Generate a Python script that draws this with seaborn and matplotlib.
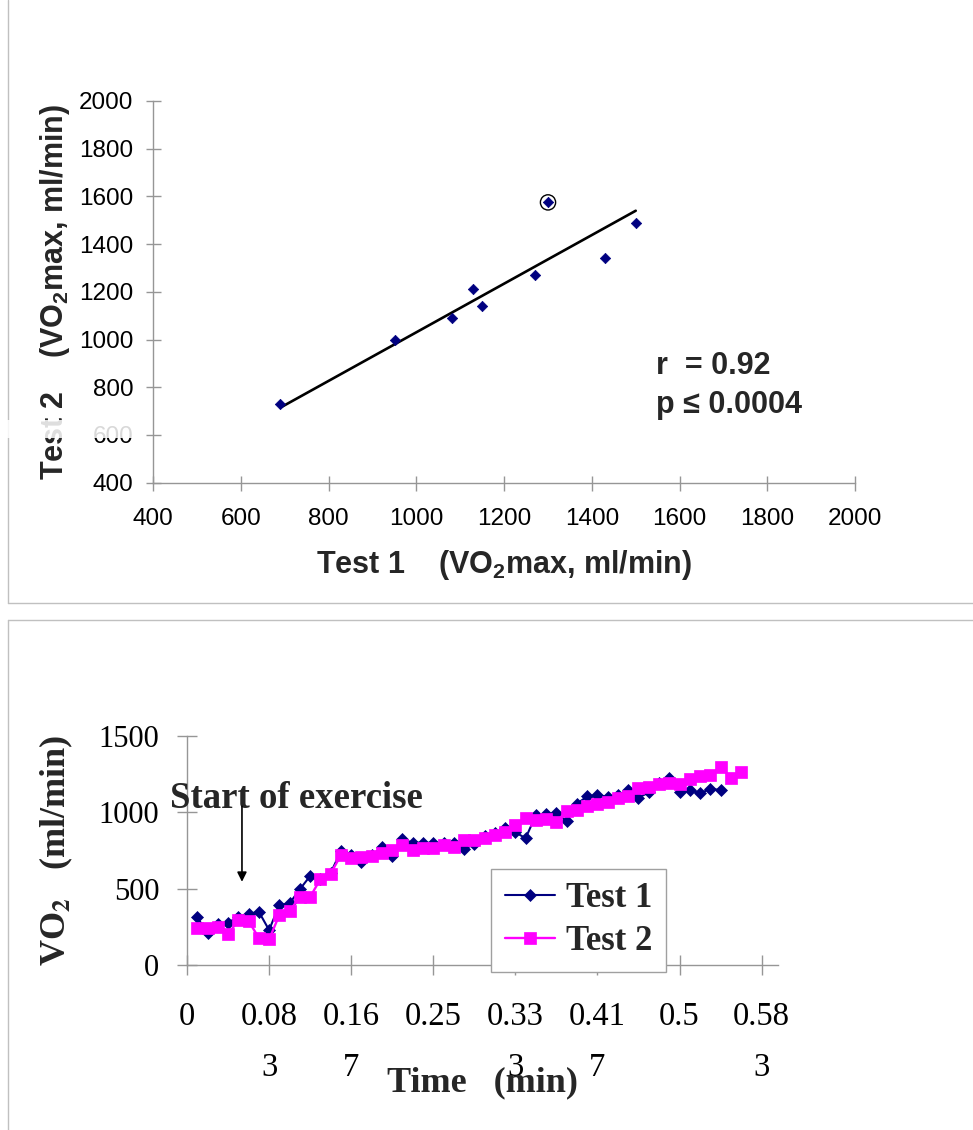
import numpy as np
import pandas as pd
import matplotlib
matplotlib.use("Agg")
import matplotlib.pyplot as plt
from matplotlib.lines import Line2D
from matplotlib.patches import Rectangle
import seaborn as sns

# ---- Test-retest VO2max (ml/min) ----
test1_vo2max = [690, 950, 1080, 1130, 1150, 1270, 1300, 1430, 1500]
test2_vo2max = [730, 1000, 1090, 1210, 1140, 1270, 1575, 1340, 1490]
trend_x = [690, 1500]
trend_y = [715, 1540]
outlier_x = [1300]
outlier_y = [1575]
vo2max_ticks = [400, 600, 800, 1000, 1200, 1400, 1600, 1800, 2000]

# ---- VO2 during the exercise test (ml/min), one sample per time step ----
time_step = 1 / 96
vo2_test1 = [312, 208, 270, 277, 316, 334, 349, 229, 393, 404,
             496, 583, 565, 603, 745, 720, 676, 720, 770, 717,
             823, 801, 801, 799, 799, 799, 761, 790, 848, 862,
             895, 870, 830, 982, 988, 993, 942, 1056, 1104, 1113,
             1102, 1113, 1146, 1096, 1130, 1195, 1226, 1135, 1146, 1124,
             1154, 1146]
vo2_test2 = [240, 240, 246, 200, 294, 288, 178, 168, 327, 353,
             446, 446, 562, 599, 719, 698, 705, 714, 731, 753,
             786, 753, 764, 764, 786, 775, 819, 819, 830, 851,
             873, 917, 962, 952, 954, 939, 1006, 1015, 1042, 1052,
             1069, 1091, 1110, 1157, 1168, 1183, 1195, 1185, 1220, 1240,
             1244, 1300, 1227, 1262]
time_ticks = [0, 0.0833, 0.1667, 0.25, 0.3333, 0.4167, 0.5, 0.5833]
time_labels = ["0", "0.08\n3", "0.16\n7", "0.25", "0.33\n3", "0.41\n7", "0.5", "0.58\n3"]
vo2_ticks = [0, 500, 1000, 1500]

sns.set_theme(style="white")
plt.rcParams["font.family"] = ["Liberation Sans", "DejaVu Sans"]
plt.rcParams["mathtext.fontset"] = "custom"
plt.rcParams["mathtext.rm"] = "Liberation Sans"
plt.rcParams["mathtext.bf"] = "Liberation Sans:bold"
plt.rcParams["mathtext.default"] = "bf"

AXIS_GREY = "#969696"
NAVY = "#000080"
MAGENTA = "#FF00FF"

W, H = 973, 1130
fig = plt.figure(figsize=(W / 100, H / 100), dpi=100)
fig.patch.set_facecolor("white")


def ax_rect(x0, y0, x1, y1):
    """Axes rectangle from pixel corners (top-left origin)."""
    return [x0 / W, 1 - y1 / H, (x1 - x0) / W, (y1 - y0) / H]


# ================= scatter: Test 1 vs Test 2 =================
ax1 = fig.add_axes(ax_rect(153.3, 101, 855, 482.7))
scatter_df = pd.DataFrame({"test1": test1_vo2max, "test2": test2_vo2max})
sns.scatterplot(data=scatter_df, x="test1", y="test2", ax=ax1, marker="D",
                s=28, color=NAVY, edgecolor=NAVY, linewidth=0.5, zorder=3)
sns.lineplot(x=trend_x, y=trend_y, ax=ax1, color="black", linewidth=1.9,
             sort=False, zorder=2)
ax1.scatter(outlier_x, outlier_y, s=120, facecolors="none",
            edgecolors="black", linewidths=1.0, zorder=4)

ax1.set_xlim(400, 2000)
ax1.set_ylim(400, 2000)
ax1.set_xticks(vo2max_ticks)
ax1.set_yticks(vo2max_ticks)
ax1.set_xticklabels([str(t) for t in vo2max_ticks])
ax1.set_yticklabels([str(t) for t in vo2max_ticks])
for side in ["top", "right"]:
    ax1.spines[side].set_visible(False)
for side in ["left", "bottom"]:
    ax1.spines[side].set_color(AXIS_GREY)
    ax1.spines[side].set_linewidth(1.0)
ax1.tick_params(axis="both", direction="inout", length=10.8, width=1.0,
                color=AXIS_GREY, labelsize=17.5, labelcolor="black",
                bottom=True, left=True)
ax1.tick_params(axis="y", pad=9.0)
ax1.tick_params(axis="x", pad=12.5)

ax1.set_xlabel("Test 1    (VO$_2$max, ml/min)", fontsize=22,
               fontweight="bold", va="center")
ax1.xaxis.set_label_coords(0.5, -0.2156)
ax1.set_ylabel("Test 2    (VO$_2$max, ml/min)", fontsize=22,
               fontweight="bold", va="center")
ax1.yaxis.set_label_coords(-0.140, 0.5)

ax1.text(1547, 889, "r  = 0.92", fontsize=22, fontweight="bold",
         ha="left", va="center")
ax1.text(1547, 726, "p \u2264 0.0004", fontsize=22, fontweight="bold",
         ha="left", va="center")

# ================= VO2 over time =================
ax2 = fig.add_axes(ax_rect(187, 736, 778, 965))
serif = ["Liberation Serif", "DejaVu Serif"]
times1 = np.arange(1, len(vo2_test1) + 1) * time_step
times2 = np.arange(1, len(vo2_test2) + 1) * time_step

sns.lineplot(x=times1, y=vo2_test1, ax=ax2, color=NAVY, linewidth=1.5,
             marker="D", markersize=6.6, markeredgecolor=NAVY,
             markeredgewidth=0.5, sort=False, label="Test 1", zorder=3)
sns.lineplot(x=times2, y=vo2_test2, ax=ax2, color=MAGENTA, linewidth=1.7,
             marker="s", markersize=8.2, markeredgecolor=MAGENTA,
             markeredgewidth=0.5, sort=False, label="Test 2", zorder=4)

ax2.set_xlim(0, 0.6)
ax2.set_ylim(0, 1500)
ax2.set_xticks(time_ticks)
ax2.set_xticklabels(time_labels)
ax2.set_yticks(vo2_ticks)
ax2.set_yticklabels([str(t) for t in vo2_ticks])
for side in ["top", "right"]:
    ax2.spines[side].set_visible(False)
for side in ["left", "bottom"]:
    ax2.spines[side].set_color(AXIS_GREY)
    ax2.spines[side].set_linewidth(1.0)
ax2.tick_params(axis="both", direction="inout", length=15, width=1.0,
                color=AXIS_GREY, labelcolor="black", bottom=True, left=True)
ax2.tick_params(axis="y", pad=12.5, labelsize=22)
ax2.tick_params(axis="x", pad=19.0, labelsize=23.5)
for lbl in ax2.get_xticklabels() + ax2.get_yticklabels():
    lbl.set_fontfamily(serif)
for lbl in ax2.get_xticklabels():
    lbl.set_linespacing(1.85)

ax2.set_xlabel("Time   (min)", fontsize=26, fontweight="bold",
               family=serif, va="center")
ax2.xaxis.set_label_coords(0.5, -0.515)
ax2.set_ylabel("VO$_2$   (ml/min)", fontsize=26, fontweight="bold",
               family=serif, va="center", math_fontfamily="stix")
ax2.yaxis.set_label_coords(-0.2217, 0.5)

ax2.text(0.1107, 1093, "Start of exercise", fontsize=26.5, fontweight="bold",
         family=serif, ha="center", va="center", zorder=5)
ax2.annotate("", xy=(0.0558, 545), xytext=(0.0558, 1040),
             arrowprops=dict(arrowstyle="-|>", color="black", lw=1.2,
                             mutation_scale=14, shrinkA=0, shrinkB=0),
             zorder=5)

leg = ax2.legend(loc="upper left", bbox_to_anchor=(0.515, 0.42),
                 borderaxespad=0, frameon=True, fancybox=False,
                 framealpha=1, edgecolor="#a0a0a0",
                 prop={"family": serif, "weight": "bold", "size": 25},
                 handlelength=1.45, handletextpad=0.32, borderpad=0.38,
                 labelspacing=0.3)
leg.get_frame().set_linewidth(1.0)
leg.set_zorder(10)

# ---- panel frames ----
FRAME = "#c0c0c0"
fx = 8 / W
fig.add_artist(Line2D([fx, fx], [1.0, 1 - 603 / H], transform=fig.transFigure,
                      color=FRAME, lw=1.0))
fig.add_artist(Line2D([fx, 1.0], [1 - 603 / H, 1 - 603 / H],
                      transform=fig.transFigure, color=FRAME, lw=1.0))
fig.add_artist(Line2D([fx, 1.0], [1 - 620 / H, 1 - 620 / H],
                      transform=fig.transFigure, color=FRAME, lw=1.0))
fig.add_artist(Line2D([fx, fx], [1 - 620 / H, 0.0], transform=fig.transFigure,
                      color=FRAME, lw=1.0))

# pale band over the left margin of the scatter panel
fig.add_artist(Rectangle((0, 1 - 438 / H), 140 / W, 18 / H,
                         transform=fig.transFigure, facecolor="white",
                         edgecolor="none", alpha=0.85, zorder=20))

fig.savefig("out.png", dpi=100, facecolor="white")
